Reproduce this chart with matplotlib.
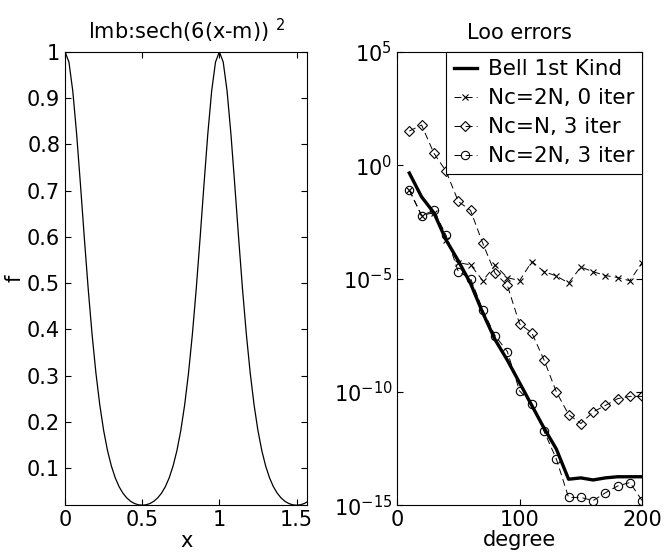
import numpy as np
import matplotlib
matplotlib.use('Agg')
import matplotlib.pyplot as plt
from matplotlib.ticker import NullLocator

plt.rcParams["font.family"] = "DejaVu Sans"
plt.rcParams["mathtext.default"] = "regular"
plt.rcParams["lines.scale_dashes"] = False

# left panel: sech^2 bump sampled on x
x = [0.000, 0.025, 0.050, 0.075, 0.100, 0.125, 0.150, 0.175, 0.200, 0.225,
     0.250, 0.275, 0.300, 0.325, 0.350, 0.375, 0.400, 0.425, 0.450, 0.475,
     0.500, 0.525, 0.550, 0.575, 0.600, 0.625, 0.650, 0.675, 0.700, 0.725,
     0.750, 0.775, 0.800, 0.825, 0.850, 0.875, 0.900, 0.925, 0.950, 0.975,
     1.000, 1.025, 1.050, 1.075, 1.100, 1.125, 1.150, 1.175, 1.200, 1.225,
     1.250, 1.275, 1.300, 1.325, 1.350, 1.375, 1.400, 1.425, 1.450, 1.475,
     1.500, 1.525, 1.550, 1.575]
f = [1.0000, 0.9778, 0.9151, 0.8220, 0.7116, 0.5967, 0.4870, 0.3890, 0.3053, 0.2364,
     0.1812, 0.1379, 0.1045, 0.0790, 0.0598, 0.0457, 0.0354, 0.0281, 0.0233, 0.0206,
     0.0197, 0.0206, 0.0233, 0.0281, 0.0354, 0.0457, 0.0598, 0.0790, 0.1045, 0.1379,
     0.1812, 0.2364, 0.3053, 0.3890, 0.4870, 0.5967, 0.7116, 0.8220, 0.9151, 0.9778,
     1.0000, 0.9778, 0.9151, 0.8220, 0.7116, 0.5967, 0.4870, 0.3890, 0.3053, 0.2364,
     0.1812, 0.1379, 0.1045, 0.0790, 0.0598, 0.0457, 0.0354, 0.0281, 0.0233, 0.0206,
     0.0197, 0.0206, 0.0233, 0.0281]

# right panel: Loo errors vs degree
degree = [10, 20, 30, 40, 50, 60, 70, 80, 90, 100,
          110, 120, 130, 140, 150, 160, 170, 180, 190, 200]
bell = [4.5e-1, 4.0e-2, 8.0e-3, 5.0e-4, 6.0e-5, 6.0e-6, 3.0e-7, 2.0e-8, 2.5e-9, 2.5e-10,
        2.5e-11, 2.5e-12, 3.0e-13, 1.4e-14, 1.6e-14, 1.3e-14, 1.6e-14, 1.8e-14, 1.8e-14, 1.8e-14]
nc2n_0 = [8e-2, 6e-3, 8e-3, 5e-4, 5e-5, 4e-5, 8e-6, 3.8e-5, 1.1e-5, 8e-6,
          5.6e-5, 2e-5, 1.3e-5, 6.3e-6, 3.2e-5, 2e-5, 1.35e-5, 1.1e-5, 8e-6, 5e-5]
ncn_3 = [32, 59, 3.4, 0.54, 2.5e-2, 1e-2, 3.5e-4, 1.7e-5, 5e-6, 1e-7,
         4e-8, 2.5e-9, 1e-10, 1e-11, 4e-12, 1.3e-11, 2.5e-11, 5e-11, 6.3e-11, 6.3e-11]
nc2n_3 = [8e-2, 6e-3, 1e-2, 8e-4, 2e-5, 1e-5, 4e-7, 3e-8, 6e-9, 1.1e-10,
          3e-11, 1.8e-12, 1.1e-13, 2.2e-15, 2.2e-15, 1.6e-15, 3.5e-15, 7e-15, 1e-14, 1.6e-15]

fig = plt.figure(figsize=(6.64, 5.57), dpi=100)
ax1 = fig.add_axes([0.098, 0.093, 0.365, 0.814])
ax2 = fig.add_axes([0.598, 0.093, 0.369, 0.814])

ax1.plot(x, f, color='black', lw=0.9)
ax1.set_xlim(0, 1.5708)
ax1.set_ylim(min(f), max(f))
ax1.set_xticks([0, 0.5, 1, 1.5])
ax1.set_xticklabels(['0', '0.5', '1', '1.5'])
ax1.set_yticks([0.1, 0.2, 0.3, 0.4, 0.5, 0.6, 0.7, 0.8, 0.9, 1.0])
ax1.set_yticklabels(['0.1', '0.2', '0.3', '0.4', '0.5', '0.6', '0.7', '0.8', '0.9', '1'])
ax1.set_xlabel('x', fontsize=15, labelpad=1)
ax1.set_ylabel('f', fontsize=15, labelpad=2)
ax1.set_title(r'lmb:sech(6(x-m)) $^{2}$', fontsize=15, pad=9)

dash = (0, (5, 3))
ax2.semilogy(degree, bell, color='black', lw=2.4, label='Bell 1st Kind')
ax2.semilogy(degree, nc2n_0, color='black', lw=0.7, ls=dash, marker='x', ms=5,
             mew=0.8, label='Nc=2N, 0 iter')
ax2.semilogy(degree, ncn_3, color='black', lw=0.7, ls=dash, marker='D', ms=5,
             mew=0.8, mfc='none', label='Nc=N, 3 iter')
ax2.semilogy(degree, nc2n_3, color='black', lw=0.7, ls=dash, marker='o', ms=6,
             mew=0.8, mfc='none', label='Nc=2N, 3 iter')
ax2.set_xlim(0, 200)
ax2.set_ylim(1e-15, 1e5)
ax2.set_xticks([0, 100, 200])
ax2.set_yticks([1e-15, 1e-10, 1e-5, 1e0, 1e5])
ax2.yaxis.set_minor_locator(NullLocator())
ax2.set_xlabel('degree', fontsize=15, labelpad=0)
ax2.set_title('Loo errors', fontsize=15, pad=9)
leg = ax2.legend(loc='upper right', fontsize=15.5, borderaxespad=0, handlelength=1.1,
                 handletextpad=0.5, labelspacing=0.42, borderpad=0.35, numpoints=1,
                 fancybox=False, framealpha=1, edgecolor='black')
leg.get_frame().set_linewidth(0.8)

for ax in (ax1, ax2):
    ax.tick_params(direction='in', top=True, right=True, length=4, width=0.8,
                   labelsize=15)
    for s in ax.spines.values():
        s.set_linewidth(0.8)

fig.savefig('out.png', dpi=100)
